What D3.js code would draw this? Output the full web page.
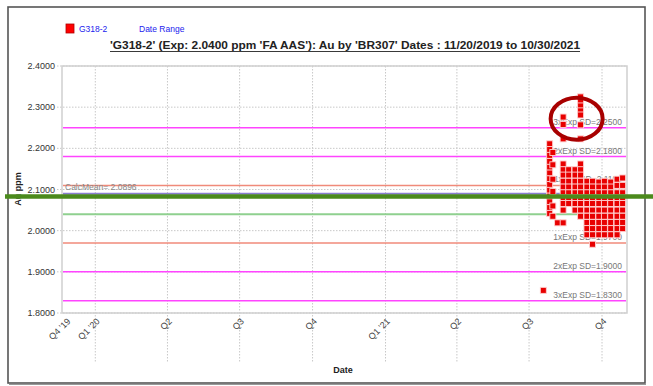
<!DOCTYPE html>
<html><head><meta charset="utf-8">
<script src="https://cdn.jsdelivr.net/npm/d3@7"></script>
<style>
html,body{margin:0;padding:0;background:#fff;}
svg{display:block;font-family:"Liberation Sans",Arial,sans-serif;}
</style></head>
<body><svg id="c" width="653" height="386"></svg>
<script>
// ---- data ----
const standardName = "G318-2";
const titleText = "'G318-2' (Exp: 2.0400 ppm 'FA AAS'): Au by 'BR307' Dates : 11/20/2019 to 10/30/2021";
const dateDomain = ["2019-11-20", "2021-10-30"];
const yDomain = [1.8, 2.4];
const yTicks = [1.8, 1.9, 2.0, 2.1, 2.2, 2.3, 2.4];
const xTickDates = ["2019-11-20","2020-01-01","2020-04-01","2020-07-01","2020-10-01","2021-01-01","2021-04-01","2021-07-01","2021-10-01"];
const xTickLabels = ["Q4 '19","Q1 '20","Q2","Q3","Q4","Q1 '21","Q2","Q3","Q4"];
const limitValues = [2.25, 2.18, 2.11, 1.97, 1.90, 1.83];
const limitLabels = ["3xExp SD=2.2500","2xExp SD=2.1800","1xExp SD=2.1100","1xExp SD=1.9700","2xExp SD=1.9000","3xExp SD=1.8300"];
const limitKinds = ["3","2","1","1","2","3"];
const expValue = 2.04;
const calcMean = 2.0896;
const sampleDates = ["2021-07-19","2021-07-27","2021-07-31","2021-08-06","2021-08-13","2021-08-20","2021-08-28","2021-09-04","2021-09-12","2021-09-19","2021-09-27","2021-10-04","2021-10-12","2021-10-20","2021-10-27"];
const sampleValues = [
  [1.855],
  [2.211,2.197,2.183,2.168,2.154,2.140,2.126,2.112,2.098,2.084,2.070,2.056,2.042],
  [2.190,2.160,2.125,2.095,2.060,2.035],
  [2.019],
  [2.276,2.258,2.223,2.162,2.148,2.135,2.120,2.106,2.092,2.080,2.066,2.050,2.019],
  [2.148,2.135,2.120,2.106,2.092,2.080,2.066],
  [2.148,2.135,2.120,2.106,2.092,2.080,2.066,2.050],
  [2.325,2.315,2.303,2.291,2.281,2.257,2.223,2.162,2.148,2.135,2.120,2.106,2.092,2.080,2.066,2.050,2.035],
  [2.120,2.106,2.092,2.080,2.066,2.050,2.035,2.020,2.005,1.990],
  [2.120,2.106,2.092,2.080,2.066,2.050,2.035,2.020,2.005,1.990,1.967],
  [2.118,2.106,2.092,2.080,2.066,2.050,2.035,2.020,2.005,1.990],
  [2.120,2.106,2.092,2.080,2.066,2.050,2.035,2.020,2.005,1.990],
  [2.118,2.106,2.092,2.080,2.066,2.050,2.035,2.020,2.005,1.990],
  [2.125,2.110,2.092,2.080,2.066,2.050,2.035,2.020,2.005,1.990],
  [2.128,2.110,2.092,2.080,2.066,2.050,2.035,2.020,2.005]
];
// annotation (hand drawn overlay)
const annotationDate = "2021-08-30";
const annotationValue = 2.272;

// ---- drawing ----
const svg = d3.select("#c");
const parse = d3.utcParse("%Y-%m-%d");
const plot = {left:62, right:627, top:66, bottom:313};
const x = d3.scaleUtc().domain(dateDomain.map(parse)).range([62, 625]);
const y = d3.scaleLinear().domain(yDomain).range([plot.bottom, plot.top]);

// outer frame
svg.append("rect").attr("x",8).attr("y",7).attr("width",637).attr("height",376)
  .attr("fill","none").attr("stroke","#555").attr("stroke-width",1.6);
svg.append("line").attr("x1",9).attr("x2",646).attr("y1",384.5).attr("y2",384.5).attr("stroke","#999").attr("stroke-width",1);

// horizontal grid
svg.append("g").selectAll("line").data(yTicks).join("line")
  .attr("x1",57).attr("x2",plot.right).attr("y1",d=>y(d)).attr("y2",d=>y(d))
  .attr("stroke","#c8c8c8").attr("stroke-width",1).attr("stroke-dasharray","1.5,1.5");
// vertical grid
svg.append("g").selectAll("line").data(xTickDates.slice(1)).join("line")
  .attr("x1",d=>x(parse(d))).attr("x2",d=>x(parse(d))).attr("y1",plot.top).attr("y2",363)
  .attr("stroke","#c8c8c8").attr("stroke-width",1).attr("stroke-dasharray","1.5,1.5");

// plot border
svg.append("rect").attr("x",plot.left).attr("y",plot.top).attr("width",plot.right-plot.left).attr("height",plot.bottom-plot.top)
  .attr("fill","none").attr("stroke","#cfcfcf").attr("stroke-width",1.5);

// y tick labels
svg.append("g").selectAll("text").data(yTicks).join("text")
  .attr("x",55).attr("y",d=>y(d)+3).attr("text-anchor","end")
  .attr("font-size","9px").attr("fill","#333").text(d=>d.toFixed(4));

// x tick labels
svg.append("g").selectAll("text").data(xTickDates).join("text")
  .attr("transform",(d,i)=>`translate(${x(parse(d))+ (i===0?9:5)},${322}) rotate(-45)`)
  .attr("text-anchor","end").attr("font-size","9px").attr("fill","#444")
  .text((d,i)=>xTickLabels[i]);

// control lines
const limitColor = {"3":"#ff44ff","2":"#ff44ff","1":"#f08a7a"};
svg.append("g").selectAll("line").data(limitValues).join("line")
  .attr("x1",plot.left+1).attr("x2",plot.right-1).attr("y1",d=>y(d)).attr("y2",d=>y(d))
  .attr("stroke",(d,i)=>limitColor[limitKinds[i]]).attr("stroke-width",1.5);
svg.append("line").attr("x1",plot.left+1).attr("x2",plot.right-1).attr("y1",y(expValue)).attr("y2",y(expValue))
  .attr("stroke","#8fd08f").attr("stroke-width",2);
svg.append("line").attr("x1",plot.left+1).attr("x2",plot.right-1).attr("y1",y(calcMean)).attr("y2",y(calcMean))
  .attr("stroke","#8a7fd0").attr("stroke-width",2);

// line labels
svg.append("g").selectAll("text").data(limitValues).join("text")
  .attr("x",622).attr("y",d=>y(d)-3).attr("text-anchor","end")
  .attr("font-size","8.5px").attr("fill","#777").text((d,i)=>limitLabels[i]);
svg.append("text").attr("x",65).attr("y",y(calcMean)-4).attr("font-size","8.5px").attr("fill","#888")
  .text("CalcMean= " + calcMean.toFixed(4));
svg.append("text").attr("x",622).attr("y",y(expValue)-4).attr("text-anchor","end").attr("font-size","8.5px").attr("fill","#888")
  .text("Cert= " + expValue.toFixed(4));

// points
const pts = [];
sampleDates.forEach((d,i)=>sampleValues[i].forEach(v=>pts.push({d:parse(d), v})));
const pg = svg.append("g");
pg.selectAll("rect").data(pts).join("rect")
  .attr("x",p=>x(p.d)-3).attr("y",p=>y(p.v)-3).attr("width",6).attr("height",6)
  .attr("fill","#e80000").attr("stroke","#ffd0d0").attr("stroke-width",0.9);

// legend
svg.append("rect").attr("x",66).attr("y",24).attr("width",8).attr("height",9).attr("fill","#ff0000").attr("stroke","#b00000").attr("stroke-width",0.8);
svg.append("text").attr("x",79).attr("y",32).attr("font-size","8.5px").attr("fill","#2222ee").text(standardName);
svg.append("text").attr("x",139).attr("y",32).attr("font-size","8.5px").attr("fill","#2222ee").text("Date Range");

// title
svg.append("text").attr("x",345).attr("y",49).attr("text-anchor","middle")
  .attr("font-size","10px").attr("font-weight","bold").attr("fill","#222")
  .attr("textLength",470).attr("lengthAdjust","spacingAndGlyphs").text(titleText);
svg.append("line").attr("x1",110).attr("x2",580).attr("y1",51.5).attr("y2",51.5).attr("stroke","#222").attr("stroke-width",0.9);

// axis titles
svg.append("text").attr("transform","translate(21,189) rotate(-90)").attr("text-anchor","middle")
  .attr("font-size","9px").attr("font-weight","bold").attr("fill","#222").text("Au ppm");
svg.append("text").attr("x",343).attr("y",373).attr("text-anchor","middle")
  .attr("font-size","9px").attr("font-weight","bold").attr("fill","#222").text("Date");

// overlay annotations
svg.append("line").attr("x1",5).attr("x2",653).attr("y1",196.5).attr("y2",196.5)
  .attr("stroke","#4b8a1c").attr("stroke-width",4.5);
svg.append("ellipse").attr("cx",x(parse(annotationDate))).attr("cy",y(annotationValue)).attr("rx",26).attr("ry",21)
  .attr("fill","none").attr("stroke","#a80000").attr("stroke-width",4);
</script></body></html>
